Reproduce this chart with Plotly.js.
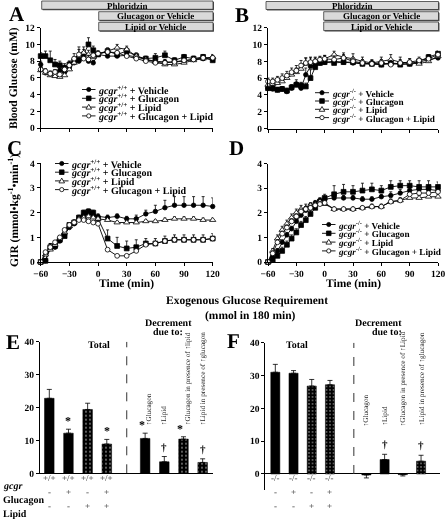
<!DOCTYPE html>
<html><head><meta charset="utf-8">
<script src="https://cdn.plot.ly/plotly-3.0.1.min.js"></script>
<style>html,body{margin:0;padding:0;background:#fff}#chart{width:447px;height:519px;will-change:transform;transform:translateZ(0)}#chart text{text-rendering:geometricPrecision}</style>
</head><body><div id="chart"></div>
<script>
// ---------------- DATA ----------------
const timeMin = [-60,-55,-50,-45,-40,-35,-30,-25,-20,-15,-10,-5,0,10,20,30,40,50,60,70,80,90,100,110,120];
const timeTicks = [-60,-30,0,30,60,90,120];
const seriesNames = ['Vehicle','Glucagon','Lipid','Glucagon + Lipid'];

// Panel A: blood glucose gcgr+/+
const vehA = [7.6,6.6,6.5,6.7,6.9,6.7,7.2,7.8,8.0,8.4,8.0,7.8,8.8, 8.6,8.6,8.7,8.5,8.2,8.0,7.9,7.9,8.0,8.2,8.3,8.2];
const gcgA = [8.6,8.6,8.1,7.6,7.5,7.2,7.6,8.0,8.3,8.8,10.0,9.3,8.8, 9.2,8.8,9.2,8.6,8.3,8.4,8.7,8.1,8.5,8.3,8.5,8.1];
const lipA = [6.9,6.6,6.3,6.2,6.1,6.3,7.0,7.8,8.6,9.0,8.8,8.5,8.9, 9.2,9.6,9.4,8.6,8.2,7.9,7.6,7.6,7.8,8.1,8.3,8.5];
const glA  = [7.0,6.8,6.5,6.7,6.4,7.0,7.5,8.3,8.8,8.3,8.2,8.7,8.9, 9.1,9.0,8.6,8.3,8.0,7.8,7.8,7.9,8.1,8.2,8.4,8.4];
const errVehA = [0.4,0.3,0.3,0.3,0.3,0.3,0.4,0.4,0.5,0.5,0.4,0.3,0.3, 0.3,0.3,0.3,0.3,0.3,0.3,0.3,0.3,0.3,0.3,0.3,0.3];
const errGcgA = [0.4,0.6,1.1,0.6,0.5,0.5,0.4,0.5,0.5,0.6,0.8,0.5,0.4, 0.4,0.3,0.4,0.4,0.3,0.5,0.5,0.3,0.3,0.3,0.3,0.3];
const errLipA = [0.3,0.3,0.3,0.3,0.3,0.3,0.5,0.6,1.1,0.7,0.5,0.4,0.3, 0.3,0.4,0.4,0.3,0.3,0.3,0.3,0.3,0.3,0.3,0.3,0.3];
const errGlA  = [0.4,0.3,0.3,0.3,0.3,0.5,0.5,0.6,0.6,0.5,0.5,0.4,0.3, 0.3,0.3,0.3,0.3,0.3,0.3,0.3,0.3,0.3,0.3,0.3,0.3];

// Panel B: blood glucose gcgr-/-
const vehB = [4.8,4.7,4.6,4.7,4.4,4.8,5.3,4.8,6.4,7.4,7.6,7.8,7.9, 8.0,7.9,7.8,7.7,7.7,7.6,7.8,7.7,7.7,7.9,8.2,8.4];
const gcgB = [4.8,4.8,4.6,4.7,4.5,4.9,5.2,5.1,5.0,6.0,7.3,7.8,7.9, 7.8,7.9,7.9,7.7,7.7,7.6,7.8,7.6,7.7,8.0,8.5,8.9];
const lipB = [5.2,5.3,5.4,5.6,6.0,6.4,6.7,7.1,7.7,7.9,8.0,8.1,8.3, 8.8,8.5,8.3,8.0,7.8,8.0,8.2,7.9,7.8,7.7,8.0,8.6];
const glB  = [5.6,5.6,5.8,6.0,6.3,6.7,6.9,7.5,7.8,7.9,8.0,8.2,8.3, 8.2,8.4,8.0,7.8,7.7,7.8,7.6,7.8,7.9,8.1,8.3,8.8];
const errVehB = [0.3,0.3,0.3,0.3,0.3,0.4,0.5,0.6,0.8,0.4,0.3,0.3,0.3, 0.3,0.3,0.3,0.3,0.3,0.3,0.3,0.3,0.3,0.3,0.3,0.3];
const errGcgB = [0.3,0.3,0.3,0.3,0.3,0.3,0.3,0.4,0.4,1.0,0.8,0.5,0.3, 0.3,0.3,0.3,0.3,0.3,0.3,0.3,0.3,0.3,0.3,0.3,0.3];
const errLipB = [0.4,0.4,0.4,0.4,0.5,0.5,0.5,0.6,0.7,0.6,0.5,0.4,0.4, 0.4,0.5,0.6,0.5,0.4,0.5,0.6,0.6,0.5,0.4,0.4,0.4];
const errGlB  = [0.4,0.4,0.4,0.5,0.5,0.5,0.6,0.6,0.6,0.5,0.4,0.4,0.4, 0.4,0.4,0.4,0.4,0.4,0.4,0.5,0.4,0.4,0.4,0.4,0.4];

// Panel C: GIR gcgr+/+
const vehC = [0,0.05,0.55,0.6,0.85,1.1,1.4,1.55,1.75,1.9,1.95,1.9,1.85, 1.8,1.85,1.75,1.75,1.95,2.05,2.2,2.3,2.3,2.3,2.3,2.25];
const gcgC = [0,0.05,0.6,0.65,0.9,1.05,1.5,1.6,1.8,2.0,2.05,2.0,1.75, 0.95,0.65,0.55,0.6,0.75,0.75,0.85,0.9,0.9,0.9,0.9,0.95];
const lipC = [0,0.3,0.5,0.7,0.95,1.2,1.45,1.6,1.75,1.8,1.85,1.8,1.75, 1.7,1.6,1.6,1.6,1.65,1.65,1.7,1.75,1.75,1.75,1.7,1.7];
const glC  = [0,0.4,0.6,0.8,1.0,1.3,1.5,1.6,1.7,1.7,1.65,1.6,1.55, 0.5,0.25,0.25,0.45,0.7,0.75,0.85,0.9,0.9,0.9,0.9,0.95];
const errVehC = [0,0.05,0.2,0.15,0.1,0.1,0.1,0.1,0.1,0.1,0.1,0.1,0.1, 0.1,0.1,0.1,0.15,0.15,0.25,0.3,0.35,0.35,0.35,0.35,0.35];
const errGcgC = [0,0.05,0.15,0.1,0.1,0.1,0.1,0.1,0.1,0.1,0.1,0.1,0.1, 0.35,0.35,0.3,0.3,0.2,0.2,0.2,0.2,0.2,0.2,0.2,0.2];
const errLipC = [0,0.05,0.1,0.1,0.1,0.1,0.1,0.1,0.1,0.1,0.1,0.1,0.1, 0.1,0.05,0.05,0.05,0.05,0.05,0.08,0.08,0.08,0.08,0.08,0.08];
const errGlC  = [0,0.05,0.05,0.05,0.05,0.05,0.05,0.05,0.05,0.05,0.05,0.05,0.05, 0.05,0.03,0.03,0.05,0.05,0.05,0.05,0.05,0.05,0.05,0.05,0.05];

// Panel D: GIR gcgr-/-
const vehD = [0,0.2,0.45,0.8,1.1,1.35,1.65,1.9,2.1,2.3,2.4,2.5,2.55, 2.6,2.6,2.6,2.55,2.55,2.65,2.7,2.8,2.9,2.95,2.95,2.9];
const gcgD = [0,0.1,0.25,0.45,0.7,0.95,1.2,1.5,1.7,1.95,2.2,2.45,2.6, 2.75,2.85,2.85,2.9,2.95,2.9,3.05,3.1,3.1,3.05,3.05,3.05];
const lipD = [0,0.45,0.95,1.3,1.55,1.8,2.0,2.15,2.2,2.3,2.35,2.45,2.35, 2.15,2.15,2.15,2.2,2.25,2.25,2.45,2.5,2.6,2.6,2.65,2.65];
const glD  = [0,0.35,0.8,1.15,1.4,1.65,1.85,2.05,2.15,2.2,2.3,2.35,2.4, 2.15,2.15,2.15,2.2,2.25,2.25,2.45,2.5,2.75,2.8,2.8,2.85];
const errVehD = [0,0.05,0.1,0.1,0.1,0.1,0.1,0.1,0.1,0.1,0.1,0.1,0.1, 0.1,0.1,0.1,0.1,0.1,0.1,0.15,0.15,0.15,0.15,0.15,0.15];
const errGcgD = [0,0.05,0.1,0.15,0.15,0.15,0.15,0.15,0.15,0.15,0.15,0.15,0.15, 0.35,0.3,0.25,0.3,0.25,0.2,0.25,0.2,0.2,0.25,0.25,0.2];
const errLipD = [0,0.1,0.15,0.15,0.15,0.15,0.15,0.15,0.15,0.1,0.1,0.1,0.1, 0.05,0.05,0.05,0.05,0.1,0.1,0.1,0.1,0.1,0.1,0.1,0.1];
const errGlD  = [0,0.1,0.1,0.1,0.1,0.1,0.1,0.1,0.1,0.1,0.1,0.1,0.1, 0.05,0.05,0.05,0.05,0.05,0.05,0.1,0.1,0.15,0.15,0.15,0.15];

// Panels E/F: exogenous glucose requirement (mmol in 180 min)
const barPos = [1,2,3,4,6,7,8,9];
const totalE = [22.8,12.2,19.4,8.9];
const errTotalE = [2.7,1.2,1.9,1.4];
const decE = [10.6,3.5,10.4,3.3];
const errDecE = [1.6,1.6,0.7,1.1];
const totalF = [31.0,30.7,26.8,27.2];
const errTotalF = [2.4,0.8,2.0,1.3];
const decF = [-0.3,4.4,-0.2,3.9];
const errDecF = [0.9,1.6,0.4,1.8];
const dottedBar = [false,false,true,true,false,false,true,true];
const sigE = ['','*','','*','*','\u2020','*','\u2020'];
const sigF = ['','','','','','\u2020','','\u2020'];
const decLabelsE = ['\u2191Glucagon','\u2191Lipid','\u2191Glucagon in presence of \u2191lipid','\u2191Lipid in presence of \u2191glucagon'];
const decLabelsF = ['\u2191Glucagon','\u2191Lipid','\u2191Glucagon in presence of \u2191Lipid','\u2191Lipid in presence of \u2191glucagon'];
const gcgrRowE = ['+/+','+/+','+/+','+/+'];
const gcgrRowF = ['-/-','-/-','-/-','-/-'];
const glucagonRow = ['-','+','-','+'];
const lipidRow = ['-','-','+','+'];

// ---------------- HELPERS ----------------
const W = 447, H = 519;
const X = p => p / W;
const Y = p => 1 - p / H;
const SERIF = 'Liberation Serif, Times New Roman, serif';
const fnt = (size, o={}) => Object.assign({family: SERIF, size: size, color: '#000000'}, o);

const styles = [
  {symbol:'circle', size:4.5, color:'#000', line:{color:'#000', width:0.8}},
  {symbol:'square', size:4.8, color:'#000', line:{color:'#000', width:0.8}},
  {symbol:'triangle-up', size:5.5, color:'#fff', line:{color:'#000', width:0.8}},
  {symbol:'circle', size:4.8, color:'#fff', line:{color:'#000', width:0.8}}
];

const traces = [];
function addSeries(xa, ya, ys, errs) {
  ys.forEach((y, k) => {
    traces.push({
      type:'scatter', mode:'lines+markers', x: timeMin, y: y, xaxis: xa, yaxis: ya,
      line:{color:'#000', width:0.9}, marker: styles[k], cliponaxis:false,
      error_y:{type:'data', symmetric:false, array: errs[k], arrayminus: errs[k].map(()=>0),
               color:'#000', thickness:0.8, width:1.5},
      showlegend:false, hoverinfo:'skip'
    });
  });
}
addSeries('x','y',[vehA,gcgA,lipA,glA],[errVehA,errGcgA,errLipA,errGlA]);
addSeries('x2','y2',[vehB,gcgB,lipB,glB],[errVehB,errGcgB,errLipB,errGlB]);
addSeries('x3','y3',[vehC,gcgC,lipC,glC],[errVehC,errGcgC,errLipC,errGlC]);
addSeries('x4','y4',[vehD,gcgD,lipD,glD],[errVehD,errGcgD,errLipD,errGlD]);

function addBars(xa, ya, totals, errT, decs, errD, patSize) {
  const vals = totals.concat(decs);
  const errs = errT.concat(errD);
  traces.push({
    type:'bar', x: barPos, y: vals, xaxis: xa, yaxis: ya, width: 0.5,
    marker:{color:'#000', line:{color:'#000', width:0.5},
      pattern:{shape: dottedBar.map(d => d ? '.' : ''), fillmode:'overlay', fgcolor:'#fff', bgcolor:'#000', size: patSize, solidity: 0.18}},
    error_y:{type:'data', symmetric:false,
      array: vals.map((v,i) => v >= 0 ? errs[i] : 0),
      arrayminus: vals.map((v,i) => v < 0 ? errs[i] : 0),
      color:'#000', thickness:0.8, width:2.5},
    showlegend:false, hoverinfo:'skip'
  });
  return {vals, errs};
}
const eBars = addBars('x5','y5', totalE, errTotalE, decE, errDecE, 4);
const fBars = addBars('x6','y6', totalF, errTotalF, decF, errDecF, 3.5);

function axBase(o) {
  return Object.assign({showline:true, linecolor:'#000', linewidth:1, ticks:'outside', ticklen:3,
    tickwidth:1, tickcolor:'#000', showgrid:false, zeroline:false, fixedrange:true,
    tickfont: fnt(9.5, {weight:'bold'})}, o);
}

const layout = {
  width: W, height: H, margin:{l:0,r:0,t:0,b:0}, paper_bgcolor:'#fff', plot_bgcolor:'rgba(0,0,0,0)',
  showlegend:false, font: fnt(9),
  xaxis: axBase({domain:[X(40.7),X(212.7)], range:[-60,120], tickvals:timeTicks, showticklabels:false, anchor:'y'}),
  yaxis: axBase({domain:[Y(128),Y(27.7)], range:[0,12], tickvals:[0,2,4,6,8,10,12], anchor:'x'}),
  xaxis2: axBase({domain:[X(268),X(438)], range:[-60,120], tickvals:timeTicks, showticklabels:false, anchor:'y2'}),
  yaxis2: axBase({domain:[Y(128.5),Y(27.7)], range:[0,12], tickvals:[0,2,4,6,8,10,12], anchor:'x2'}),
  xaxis3: axBase({domain:[X(40.7),X(212.7)], range:[-60,120], tickvals:timeTicks, anchor:'y3'}),
  yaxis3: axBase({domain:[Y(262),Y(163.3)], range:[0,4], tickvals:[0,1,2,3,4], anchor:'x3'}),
  xaxis4: axBase({domain:[X(268),X(438)], range:[-60,120], tickvals:timeTicks, anchor:'y4'}),
  yaxis4: axBase({domain:[Y(262),Y(163.5)], range:[0,4], tickvals:[0,1,2,3,4], anchor:'x4'}),
  xaxis5: axBase({domain:[X(40),X(213)], range:[0.515,9.54], ticks:'', showticklabels:false, anchor:'y5'}),
  yaxis5: axBase({domain:[Y(473.3),Y(341.7)], range:[0,40], tickvals:[0,10,20,30,40], anchor:'x5'}),
  xaxis6: axBase({domain:[X(265.3),X(440)], range:[0.45,10.04], ticks:'', showticklabels:false, showline:false, anchor:'y6'}),
  yaxis6: axBase({domain:[Y(490.4),Y(342.7)], range:[-5,40], tickvals:[0,10,20,30,40], zeroline:true, zerolinecolor:'#000', zerolinewidth:1, anchor:'x6'}),
  shapes: [], annotations: []
};
const S = layout.shapes, A = layout.annotations;

function ann(x, y, text, o={}) {
  A.push(Object.assign({xref:'paper', yref:'paper', x:X(x), y:Y(y), text:text, showarrow:false,
    font: fnt(9, {weight:'bold'}), xanchor:'center', yanchor:'middle'}, o));
}

// panel letters
ann(17,14,'<b>A</b>',{font:fnt(21,{weight:'bold'})});
ann(242,15,'<b>B</b>',{font:fnt(21,{weight:'bold'})});
ann(14,148,'<b>C</b>',{font:fnt(21,{weight:'bold'})});
ann(236,148,'<b>D</b>',{font:fnt(21,{weight:'bold'})});
ann(13,342,'<b>E</b>',{font:fnt(21,{weight:'bold'})});
ann(233,341,'<b>F</b>',{font:fnt(21,{weight:'bold'})});

// axis titles
ann(13,78,'<b>Blood Glucose (mM)</b>',{textangle:-90, font:fnt(11.5,{weight:'bold'})});
ann(14,211,'<b>GIR (mmol\u2022kg<sup>-1</sup>\u2022min<sup>-1</sup>)</b>',{textangle:-90, font:fnt(11.5,{weight:'bold'})});
ann(126.7,283,'<b>Time (min)</b>',{font:fnt(11.5,{weight:'bold'})});
ann(353,283,'<b>Time (min)</b>',{font:fnt(11.5,{weight:'bold'})});
ann(247,300,'<b>Exogenous Glucose Requirement</b>',{font:fnt(11.5,{weight:'bold'})});
ann(250,315,'<b>(mmol in 180 min)</b>',{font:fnt(11.5,{weight:'bold'})});

// header boxes
function box(x0,y0,x1,y1,text){
  S.push({type:'rect',xref:'paper',yref:'paper',x0:X(x0+1),x1:X(x1+1),y0:Y(y1+1),y1:Y(y0+1),fillcolor:'#555',line:{width:0}});
  S.push({type:'rect',xref:'paper',yref:'paper',x0:X(x0),x1:X(x1),y0:Y(y1),y1:Y(y0),fillcolor:'#d9d9d9',line:{color:'#222',width:0.7}});
  ann((x0+x1)/2,(y0+y1)/2+0.5,'<b>'+text+'</b>',{font:fnt(9,{weight:'bold'})});
}
box(41.7,1,213,9.3,'Phloridzin');
box(98.7,11.7,213,20.3,'Glucagon or Vehicle');
box(98.7,22.3,213,30.8,'Lipid or Vehicle');
box(266,1.5,438.5,9.5,'Phloridzin');
box(323.7,11.7,438.5,20.3,'Glucagon or Vehicle');
box(323.7,22,438.5,30.6,'Lipid or Vehicle');

// legends (drawn as glyph shapes + text)
function glyph(k, cx, cy){
  const r = 2.1;
  if (k === 0 || k === 3) {
    S.push({type:'circle',xref:'paper',yref:'paper',x0:X(cx-r),x1:X(cx+r),y0:Y(cy+r),y1:Y(cy-r),
      fillcolor: k===0?'#000':'#fff', line:{color:'#000',width:0.8}});
  } else if (k === 1) {
    S.push({type:'rect',xref:'paper',yref:'paper',x0:X(cx-2.3),x1:X(cx+2.3),y0:Y(cy+2.3),y1:Y(cy-2.3),
      fillcolor:'#000', line:{color:'#000',width:0.8}});
  } else {
    S.push({type:'path',xref:'paper',yref:'paper',
      path:`M ${X(cx)} ${Y(cy-2.8)} L ${X(cx+2.8)} ${Y(cy+2)} L ${X(cx-2.8)} ${Y(cy+2)} Z`,
      fillcolor:'#fff', line:{color:'#000',width:0.8}});
  }
}
function legend(sx0, sx1, y0, gap, geno, size){
  seriesNames.forEach((nm,k)=>{
    const y = y0 + k*gap;
    S.push({type:'line',xref:'paper',yref:'paper',x0:X(sx0),x1:X(sx1),y0:Y(y),y1:Y(y),line:{color:'#000',width:0.9}});
    glyph(k,(sx0+sx1)/2,y);
    ann(sx1+0.5, y, `<b><i>gcgr</i><sup>${geno}</sup> + ${nm}</b>`, {xanchor:'left', font:fnt(size,{weight:'bold'})});
  });
}
legend(82,95.5,89.5,8.8,'+/+',10);
legend(315,329,92.7,8.3,'-/-',9.2);
legend(55,68.5,163.5,8.7,'+/+',10);
legend(322,335.5,224.5,8.8,'-/-',9.2);

// E / F decorations
function barDeco(xa, ya, bars, sig, labels, labelBottom, sepX, totalX, decX, gRow){
  S.push({type:'line',xref:xa,yref:ya,x0:sepX,x1:sepX,y0:0,y1:40,line:{color:'#333',width:1,dash:'dash'}});
  barPos.forEach((p,i)=>{
    const top = bars.vals[i] >= 0 ? bars.vals[i] + bars.errs[i] : 0;
    const hasLabel = i >= 4;
    const shiftStar = (hasLabel && sig[i]==='*') ? -3 : 0;
    if (sig[i]) {
      A.push({xref:xa, yref:ya, x:p, y: top, text: '<b>' + sig[i] + '</b>', showarrow:false,
        xanchor:'center', yanchor:'bottom', yshift: sig[i]==='*' ? -1 : 2, xshift: shiftStar,
        font: fnt(sig[i]==='*' ? 12 : 11, {weight:'bold', color:'#000000'})});
    }
    if (hasLabel) {
      A.push({xref:xa, yref:'paper', x:p, y:Y(labelBottom), text: labels[i-4], showarrow:false, textangle:-90,
        xanchor:'center', yanchor:'bottom', xshift: sig[i]==='*' ? 4 : 0, font: fnt(7.2, {color:'#222'})});
    }
  });
  A.push({xref:'paper',yref:'paper',x:X(totalX),y:Y(351.5),text:'<b>Total</b>',showarrow:false,font:fnt(10,{weight:'bold'})});
  A.push({xref:'paper',yref:'paper',x:X(decX),y:Y(322),text:'<b>Decrement</b>',showarrow:false,font:fnt(10,{weight:'bold'})});
  A.push({xref:'paper',yref:'paper',x:X(decX),y:Y(331.5),text:'<b>due to:</b>',showarrow:false,font:fnt(10,{weight:'bold'})});
  [gRow, glucagonRow, lipidRow].forEach((row,r)=>{
    row.forEach((t,i)=>{
      A.push({xref:xa, yref:'paper', x:barPos[i], y:Y(485 + r*14.2), text:t, showarrow:false,
        font: fnt(9,{color:'#333'})});
    });
  });
}
barDeco('x5','y5',eBars,sigE,decLabelsE,427,5.04,86,168,gcgrRowE);
barDeco('x6','y6',fBars,sigF,decLabelsF,428,5.31,310,404,gcgrRowF);

ann(1,485,'<b><i>gcgr</i></b>',{xanchor:'left',font:fnt(10,{weight:'bold'})});
ann(1,499,'<b>Glucagon</b>',{xanchor:'left',font:fnt(10,{weight:'bold'})});
ann(1,513,'<b>Lipid</b>',{xanchor:'left',font:fnt(10,{weight:'bold'})});

Plotly.newPlot('chart', traces, layout, {staticPlot:true, displayModeBar:false});
</script>
</body></html>
